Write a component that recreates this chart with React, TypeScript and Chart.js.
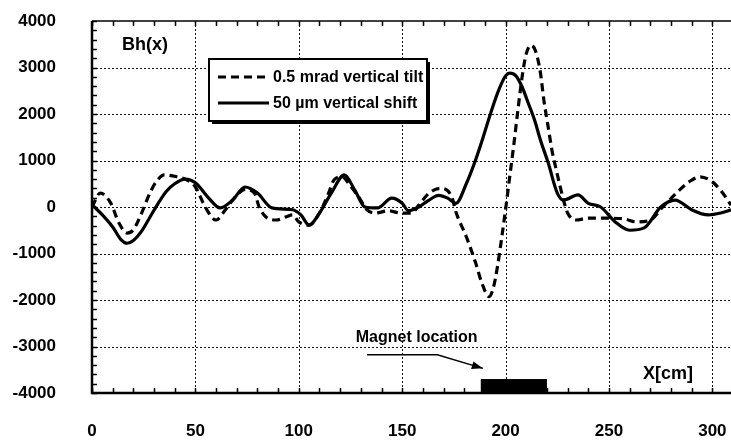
import React, { useEffect, useRef } from "react";
import { Chart, registerables } from "chart.js";

Chart.register(...registerables);

// ---- data ----
const seriesLabels = ["0.5 mrad vertical tilt", "50 \u00b5m vertical shift"];

const tiltX = [0, 4, 9, 13, 17, 20, 24, 28, 31, 35, 41, 46, 50, 55, 60, 64.5, 69, 74, 78.5, 81, 84, 89, 94, 97, 100, 105, 110, 114.6, 117, 121, 125, 129, 133, 137, 143.5, 149, 154.6, 158, 163, 168.6, 174, 176, 181, 185.5, 188.5, 192, 194, 196, 198, 200, 202, 204, 206, 208, 210, 212.4, 214.5, 216.8, 218.5, 220.6, 222.5, 224.5, 228, 230, 234, 240, 248.5, 257.7, 263, 270, 276, 283, 288.7, 294, 300, 305, 309];
const tiltY = [0, 300, 90, -340, -560, -490, -130, 300, 540, 690, 650, 580, 430, -20, -280, -60, 200, 380, 300, -20, -210, -280, -210, -170, -320, -390, -130, 320, 580, 650, 450, 215, -60, -130, -80, -130, -130, 40, 300, 400, 215, -110, -640, -1200, -1630, -1930, -1750, -1300, -700, -50, 650, 1350, 2100, 2800, 3300, 3480, 3350, 2900, 2300, 1720, 1200, 800, 150, -130, -280, -240, -240, -260, -320, -280, 0, 320, 540, 650, 540, 300, 40];

const shiftX = [0, 5, 10, 14, 17, 20, 24, 28, 32, 36, 40, 45, 50, 56, 62, 68, 74, 80, 87, 97, 101, 105, 110, 116, 122, 127, 132, 138, 145, 150, 153, 158, 163, 167.6, 172, 176, 181, 185, 189, 193, 197, 200, 202, 205, 208, 211, 214, 217, 220.6, 225, 228, 235, 240, 246, 253, 260, 267, 275, 282, 290, 298, 304, 309];
const shiftY = [50, -170, -430, -700, -780, -720, -520, -220, 80, 340, 500, 600, 520, 215, -20, 150, 430, 300, -20, -60, -170, -390, -130, 320, 690, 370, 0, -20, 190, 80, -80, 0, 150, 250, 190, 80, 500, 950, 1480, 2050, 2550, 2820, 2880, 2820, 2580, 2230, 1870, 1420, 950, 300, 150, 260, 80, 0, -320, -500, -450, 0, 150, -60, -170, -130, -60];

const xTicks = [0, 50, 100, 150, 200, 250, 300];
const yTicks = [-4000, -3000, -2000, -1000, 0, 1000, 2000, 3000, 4000];
const xMin = 0;
const xMax = 309;
const yMin = -4000;
const yMax = 4000;
const xMinorStep = 10;
const yMinorStep = 200;

const yAxisTitle = "Bh(x)";
const xAxisTitle = "X[cm]";
const magnetLabel = "Magnet location";
const magnetStart = 188;
const magnetEnd = 220;
const magnetBottom = -4000;
const magnetTop = -3700;
// arrow path (data units)
const arrowXs = [133, 167, 189];
const arrowYs = [-3180, -3180, -3470];
const magnetLabelX = 157;
const magnetLabelY = -2800;

const FONT = "'Liberation Sans', Arial, Helvetica, sans-serif";

const decorPlugin = {
  id: "decor",
  beforeDatasetsDraw(chart: any) {
    const { ctx, chartArea, scales } = chart;
    const xs = scales.x;
    const ys = scales.y;
    const { left, right, top, bottom } = chartArea;
    ctx.save();
    // dotted grid
    ctx.strokeStyle = "#111";
    ctx.lineWidth = 1;
    ctx.setLineDash([2, 2]);
    for (const v of xTicks) {
      const px = Math.round(xs.getPixelForValue(v)) + 0.5;
      if (v === xMin) continue;
      ctx.beginPath();
      ctx.moveTo(px, top);
      ctx.lineTo(px, bottom);
      ctx.stroke();
    }
    for (const v of yTicks) {
      if (v === yMin || v === yMax) continue;
      const py = Math.round(ys.getPixelForValue(v)) + 0.5;
      ctx.beginPath();
      ctx.moveTo(left, py);
      ctx.lineTo(right, py);
      ctx.stroke();
    }
    ctx.setLineDash([]);
    // minor ticks
    ctx.lineWidth = 1.5;
    ctx.strokeStyle = "#000";
    for (let v = xMin; v <= xMax; v += xMinorStep) {
      const px = Math.round(xs.getPixelForValue(v)) + 0.5;
      ctx.beginPath();
      ctx.moveTo(px, bottom);
      ctx.lineTo(px, bottom - 5);
      ctx.moveTo(px, top);
      ctx.lineTo(px, top + 5);
      ctx.stroke();
    }
    for (let v = yMin; v <= yMax; v += yMinorStep) {
      const py = Math.round(ys.getPixelForValue(v)) + 0.5;
      ctx.beginPath();
      ctx.moveTo(left, py);
      ctx.lineTo(left + 5, py);
      ctx.stroke();
    }
    // axes
    ctx.lineWidth = 2.5;
    ctx.beginPath();
    ctx.moveTo(left, top);
    ctx.lineTo(left, bottom);
    ctx.lineTo(right, bottom);
    ctx.stroke();
    ctx.lineWidth = 1.5;
    ctx.beginPath();
    ctx.moveTo(left, top);
    ctx.lineTo(right, top);
    ctx.stroke();
    ctx.restore();
  },
  afterDatasetsDraw(chart: any) {
    const { ctx, scales } = chart;
    const xs = scales.x;
    const ys = scales.y;
    ctx.save();
    ctx.fillStyle = "#000";
    ctx.strokeStyle = "#000";

    // magnet bar
    const bx0 = xs.getPixelForValue(magnetStart);
    const bx1 = xs.getPixelForValue(magnetEnd);
    const by0 = ys.getPixelForValue(magnetTop);
    const by1 = ys.getPixelForValue(magnetBottom);
    ctx.fillRect(bx0, by0, bx1 - bx0, by1 - by0);

    // arrow
    const pts = arrowXs.map((x, i) => [xs.getPixelForValue(x), ys.getPixelForValue(arrowYs[i])]);
    ctx.lineWidth = 1.5;
    ctx.beginPath();
    ctx.moveTo(pts[0][0], pts[0][1]);
    for (let i = 1; i < pts.length; i++) ctx.lineTo(pts[i][0], pts[i][1]);
    ctx.stroke();
    const [ax, ay] = pts[pts.length - 1];
    const [px, py] = pts[pts.length - 2];
    const ang = Math.atan2(ay - py, ax - px);
    ctx.beginPath();
    ctx.moveTo(ax, ay);
    ctx.lineTo(ax - 11 * Math.cos(ang) + 4 * Math.sin(ang), ay - 11 * Math.sin(ang) - 4 * Math.cos(ang));
    ctx.lineTo(ax - 11 * Math.cos(ang) - 4 * Math.sin(ang), ay - 11 * Math.sin(ang) + 4 * Math.cos(ang));
    ctx.closePath();
    ctx.fill();

    // texts
    ctx.textBaseline = "middle";
    ctx.font = `bold 16px ${FONT}`;
    ctx.textAlign = "center";
    ctx.fillText(magnetLabel, xs.getPixelForValue(magnetLabelX), ys.getPixelForValue(magnetLabelY));

    ctx.font = `bold 18px ${FONT}`;
    ctx.textAlign = "left";
    ctx.fillText(yAxisTitle, 122, 45);
    ctx.fillText(xAxisTitle, 643, 374);

    // legend box
    const lx = 209, ly = 59, lw = 218, lh = 62;
    ctx.fillRect(lx + 3, ly + 3, lw, lh);
    ctx.fillStyle = "#fff";
    ctx.fillRect(lx, ly, lw, lh);
    ctx.lineWidth = 2;
    ctx.strokeRect(lx, ly, lw, lh);
    ctx.fillStyle = "#000";
    const ds = chart.data.datasets;
    const rows = [77, 103];
    ds.forEach((d: any, i: number) => {
      ctx.save();
      ctx.lineWidth = 3;
      ctx.setLineDash(d.borderDash || []);
      ctx.beginPath();
      ctx.moveTo(218, rows[i]);
      ctx.lineTo(269, rows[i]);
      ctx.stroke();
      ctx.restore();
      ctx.font = `bold 16px ${FONT}`;
      ctx.textAlign = "left";
      ctx.textBaseline = "middle";
      ctx.fillText(d.label, 273, rows[i] + 1);
    });
    ctx.restore();
  },
};

const zeroPad = (s: any) => {
  s.paddingTop = 0;
  s.paddingBottom = 0;
  s.paddingLeft = 0;
  s.paddingRight = 0;
};

export default function App() {
  const ref = useRef<HTMLCanvasElement | null>(null);
  useEffect(() => {
    if (!ref.current) return;
    const chart = new Chart(ref.current, {
      type: "line",
      data: {
        datasets: [
          {
            label: seriesLabels[0],
            data: tiltX.map((x, i) => ({ x, y: tiltY[i] })),
            borderColor: "#000",
            borderWidth: 3.2,
            borderDash: [8, 5],
            pointRadius: 0,
            fill: false,
            cubicInterpolationMode: "monotone",
          },
          {
            label: seriesLabels[1],
            data: shiftX.map((x, i) => ({ x, y: shiftY[i] })),
            borderColor: "#000",
            borderWidth: 3.2,
            pointRadius: 0,
            fill: false,
            cubicInterpolationMode: "monotone",
          },
        ],
      },
      options: {
        animation: false,
        responsive: false,
        devicePixelRatio: 1,
        layout: { padding: { top: 21, left: 0, right: 0, bottom: 0 } },
        plugins: { legend: { display: false }, tooltip: { enabled: false } },
        scales: {
          x: {
            type: "linear",
            min: xMin,
            max: xMax,
            grid: { display: false, drawTicks: false },
            border: { display: false },
            afterBuildTicks: (s: any) => {
              s.ticks = xTicks.map((v) => ({ value: v }));
            },
            afterFit: (s: any) => {
              s.height = 48;
              zeroPad(s);
            },
            ticks: {
              padding: 28,
              color: "#000",
              autoSkip: false,
              maxRotation: 0,
              font: { family: FONT, size: 17, weight: "bold" },
              callback: (v: any) => String(v),
            },
          },
          y: {
            type: "linear",
            min: yMin,
            max: yMax,
            grid: { display: false, drawTicks: false },
            border: { display: false },
            afterBuildTicks: (s: any) => {
              s.ticks = yTicks.map((v) => ({ value: v }));
            },
            afterFit: (s: any) => {
              s.width = 92;
              zeroPad(s);
            },
            ticks: {
              padding: 36,
              color: "#000",
              autoSkip: false,
              font: { family: FONT, size: 17, weight: "bold" },
              callback: (v: any) => String(v),
            },
          },
        },
      } as any,
      plugins: [decorPlugin],
    });
    return () => chart.destroy();
  }, []);
  return (
    <div style={{ position: "absolute", left: 0, top: 0, width: 731, height: 441, background: "#fff" }}>
      <canvas ref={ref} width={731} height={441} />
    </div>
  );
}
